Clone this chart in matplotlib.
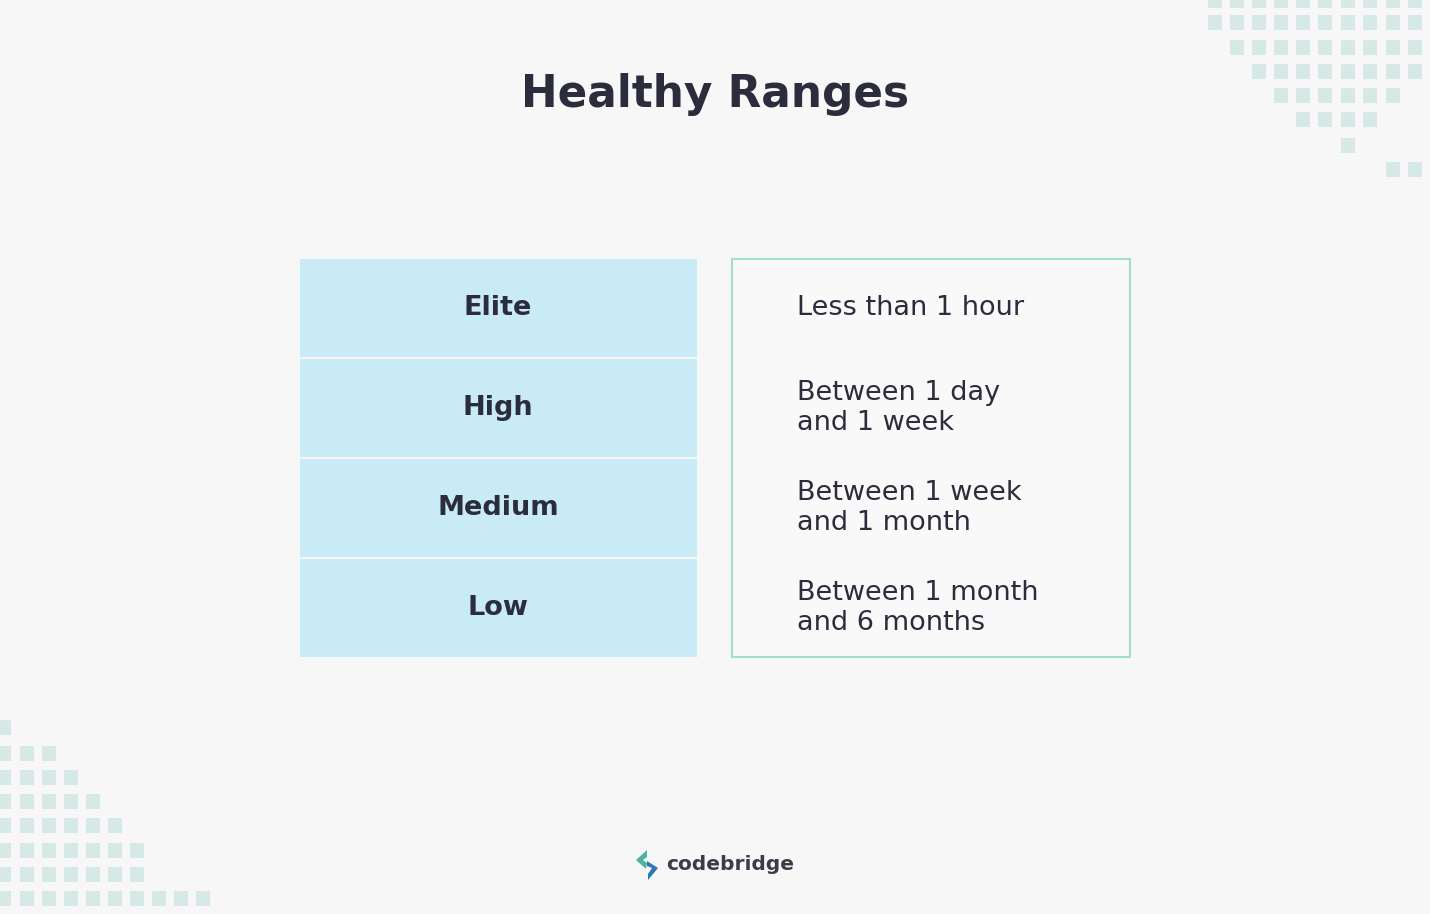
import matplotlib.pyplot as plt
from matplotlib.patches import Rectangle, Polygon

# datos de la tabla
levels = ['Elite', 'High', 'Medium', 'Low']
ranges = ['Less than 1 hour', 'Between 1 day\nand 1 week',
          'Between 1 week\nand 1 month', 'Between 1 month\nand 6 months']

# cuadritos decorativos: (fila y, columnas)
tr_cols = [1208, 1230, 1252, 1274, 1296, 1318, 1341, 1363, 1386, 1408]
tr_rows = [(-7, range(0, 10)), (15, range(0, 10)), (40, range(1, 10)), (64, range(2, 10)),
           (88, range(3, 9)), (112, range(4, 8)), (138, [6]), (162, [8, 9])]
bl_cols = [-3, 20, 42, 64, 86, 108, 130, 152, 174, 196]
bl_rows = [(720, [0]), (746, range(0, 3)), (770, range(0, 4)), (794, range(0, 5)),
           (818, range(0, 6)), (843, range(0, 7)), (867, range(0, 7)), (891, range(0, 10))]

bg = '#f7f7f7'
font = 'DejaVu Sans'
fig = plt.figure(figsize=(14.3, 9.14), dpi=100, facecolor=bg)
ax = fig.add_axes([0, 0, 1, 1])
ax.set_xlim(0, 1430)
ax.set_ylim(914, 0)
ax.axis('off')

for rows, cols in [(tr_rows, tr_cols), (bl_rows, bl_cols)]:
    for y, idx in rows:
        for i in idx:
            ax.add_patch(Rectangle((cols[i], y), 14, 15, color='#d7e9e7', lw=0))

ax.text(715, 95, 'Healthy Ranges', ha='center', va='center', fontsize=31.5,
        fontweight='bold', color='#2b2d3c', family=font)

for i, lv in enumerate(levels):
    y0 = 259 + i * 100
    ax.add_patch(Rectangle((300, y0), 397, 98, color='#c8ebf6', lw=0))
    ax.text(498, y0 + 49, lv, ha='center', va='center', fontsize=19.5,
            fontweight='bold', color='#2b2d3c', family=font)
    ax.text(797, y0 + 49, ranges[i], ha='left', va='center', fontsize=19.5,
            color='#2b2d3c', family=font, linespacing=1.2)

ax.add_patch(Rectangle((732, 259), 398, 398, facecolor='#f9f9f9',
                       edgecolor='#9fe0c9', lw=1.5))

# logo
ax.add_patch(Polygon([(647, 850), (636, 860), (646, 869), (647, 863), (643, 860), (647, 857)],
                     color='#4fb3a3', lw=0))
ax.add_patch(Polygon([(647, 861), (658, 868), (648, 880), (648, 874), (652, 868), (647, 866)],
                     color='#2f77b5', lw=0))
ax.text(666, 864, 'codebridge', ha='left', va='center', fontsize=14.5,
        color='#3a3d48', family=font, fontweight='bold')

fig.savefig('out.png', dpi=100, facecolor=bg)
